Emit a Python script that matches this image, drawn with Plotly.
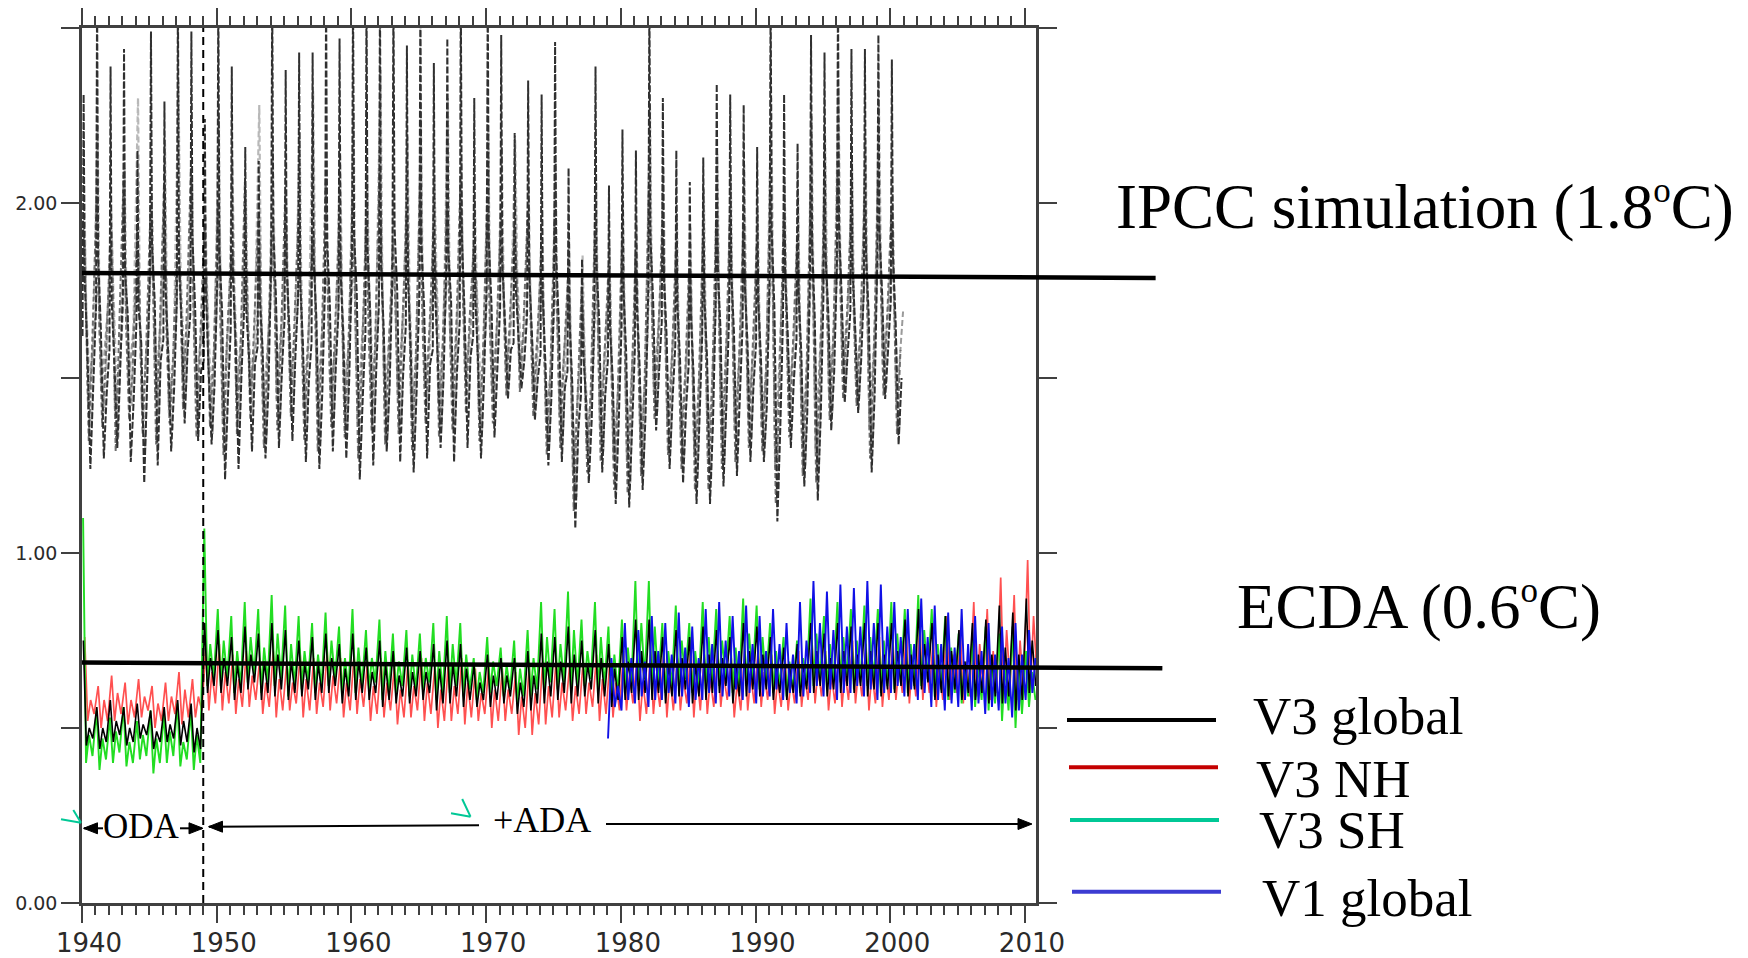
import plotly.graph_objects as go

# ---------------- data ----------------
# IPCC simulation (grey dashed ensemble), one row per year 1940..2000
IPCC_YEARS = list(range(1940, 2001))
# member A (dark)
IPCC_A_PRE = [1.62,1.70,1.58,1.75,1.66,1.80,1.61,1.72,1.68,1.55,1.78,1.64,1.70,1.59,1.82,1.67,1.73,1.60,1.76,1.69,
              1.84,1.63,1.71,1.79,1.65,1.74,1.58,1.81,1.66,1.62,1.77,1.70,1.60,1.68,1.57,1.74,1.52,1.45,1.70,1.55,
              1.63,1.58,1.76,1.66,1.59,1.54,1.62,1.71,1.68,1.65,1.60,1.78,1.67,1.61,1.80,1.73,1.82,1.69,1.75,1.84,1.72]
IPCC_A_PEAK = [2.31,2.60,2.39,2.44,2.15,2.49,2.29,2.60,2.49,2.24,2.60,2.39,2.16,2.12,2.60,2.38,2.43,2.43,2.60,2.47,
               2.60,2.60,2.60,2.60,2.45,2.60,2.40,2.47,2.60,2.30,2.60,2.48,2.20,2.35,2.31,2.46,2.10,1.84,2.39,2.05,
               2.21,2.15,2.60,2.30,2.15,2.06,2.13,2.34,2.31,2.28,2.16,2.60,2.31,2.17,2.48,2.43,2.60,2.44,2.44,2.48,2.41]
IPCC_A_POST = [1.78,1.85,1.72,1.80,1.70,1.88,1.76,1.83,1.90,1.74,1.86,1.79,1.69,1.73,1.92,1.81,1.77,1.84,1.89,1.80,
               1.91,1.87,1.82,1.93,1.78,1.88,1.75,1.86,1.90,1.72,1.89,1.83,1.76,1.80,1.74,1.85,1.66,1.58,1.82,1.64,
               1.75,1.70,1.90,1.79,1.71,1.68,1.73,1.81,1.80,1.77,1.72,1.92,1.79,1.74,1.88,1.85,1.93,1.82,1.86,1.92,1.85]
IPCC_A_MID = [1.58,1.64,1.55,1.68,1.60,1.72,1.57,1.66,1.70,1.52,1.69,1.61,1.56,1.59,1.73,1.63,1.60,1.67,1.71,1.62,
              1.74,1.68,1.64,1.75,1.59,1.70,1.57,1.72,1.69,1.55,1.71,1.66,1.62,1.63,1.54,1.65,1.48,1.45,1.66,1.50,
              1.57,1.53,1.72,1.62,1.55,1.51,1.56,1.64,1.63,1.60,1.56,1.70,1.62,1.57,1.67,1.69,1.73,1.64,1.68,1.74,1.66]
IPCC_A_TROUGH = [1.24,1.27,1.30,1.26,1.20,1.25,1.29,1.37,1.32,1.31,1.21,1.24,1.29,1.27,1.30,1.32,1.26,1.24,1.29,1.27,
                 1.21,1.25,1.29,1.26,1.23,1.27,1.30,1.26,1.30,1.27,1.33,1.44,1.47,1.38,1.25,1.26,1.07,1.20,1.23,1.14,
                 1.13,1.18,1.35,1.24,1.20,1.14,1.14,1.19,1.22,1.26,1.26,1.09,1.30,1.19,1.15,1.35,1.43,1.40,1.23,1.44,1.31]
IPCC_A_LATE = [1.50,1.46,1.53,1.44,1.49,1.55,1.47,1.58,1.52,1.48,1.45,1.51,1.54,1.47,1.52,1.56,1.49,1.46,1.53,1.50,
               1.44,1.52,1.48,1.51,1.46,1.54,1.50,1.52,1.56,1.49,1.53,1.58,1.55,1.50,1.44,1.47,1.35,1.38,1.45,1.37,
               1.36,1.40,1.52,1.44,1.41,1.38,1.37,1.43,1.45,1.47,1.42,1.36,1.49,1.40,1.39,1.52,1.57,1.55,1.45,1.58,1.50]
# member B (light)
IPCC_B_PEAK = [2.05,2.22,1.98,2.10,2.30,2.02,2.18,2.35,2.08,1.96,2.25,2.12,2.04,2.28,2.15,2.00,2.20,2.32,2.06,2.14,
               2.26,2.10,2.38,2.03,2.19,2.24,2.08,2.30,2.12,2.01,2.22,2.16,2.18,2.05,1.98,2.12,1.90,1.85,2.06,1.88,
               2.00,1.95,2.28,2.10,1.97,1.93,2.04,2.14,2.08,2.11,1.98,2.30,2.06,2.02,2.25,2.20,2.33,2.12,2.18,2.28,2.05]
IPCC_B_MID = [1.70,1.62,1.76,1.68,1.58,1.73,1.66,1.80,1.64,1.71,1.60,1.75,1.67,1.63,1.78,1.69,1.61,1.74,1.65,1.72,
              1.59,1.77,1.68,1.62,1.73,1.66,1.79,1.64,1.70,1.75,1.63,1.72,1.78,1.66,1.60,1.62,1.50,1.55,1.64,1.52,
              1.58,1.56,1.70,1.61,1.54,1.57,1.60,1.66,1.63,1.67,1.59,1.73,1.65,1.60,1.70,1.74,1.76,1.68,1.71,1.79,1.70]
IPCC_B_TROUGH = [1.36,1.40,1.33,1.42,1.30,1.38,1.35,1.45,1.39,1.34,1.31,1.37,1.41,1.33,1.38,1.43,1.36,1.32,1.40,1.35,
                 1.30,1.39,1.34,1.37,1.32,1.41,1.36,1.38,1.43,1.35,1.40,1.48,1.50,1.42,1.31,1.33,1.16,1.26,1.29,1.22,
                 1.20,1.25,1.40,1.30,1.27,1.22,1.21,1.27,1.29,1.33,1.31,1.18,1.36,1.25,1.23,1.40,1.46,1.44,1.30,1.47,1.36]
# member C (mid grey)
IPCC_C_HIGH = [1.95,2.02,1.88,2.08,1.92,1.99,2.05,1.90,2.10,1.94,2.00,1.87,2.06,1.96,1.91,2.03,1.98,1.89,2.07,1.93,
               2.01,1.95,2.09,1.90,1.97,2.04,1.92,1.99,2.06,1.88,2.02,1.96,1.93,1.98,1.86,1.95,1.80,1.76,1.97,1.82,
               1.90,1.85,2.05,1.94,1.87,1.84,1.89,1.98,1.95,1.93,1.88,2.04,1.96,1.90,2.02,2.00,2.08,1.97,2.01,2.06,1.99]
IPCC_C_MIDA = [1.72,1.66,1.78,1.64,1.70,1.75,1.62,1.80,1.68,1.73,1.65,1.77,1.69,1.63,1.76,1.71,1.67,1.79,1.66,1.74,
               1.70,1.63,1.77,1.68,1.72,1.65,1.80,1.69,1.73,1.76,1.64,1.74,1.79,1.70,1.62,1.66,1.55,1.58,1.67,1.56,
               1.61,1.59,1.74,1.65,1.58,1.60,1.63,1.70,1.66,1.69,1.62,1.76,1.68,1.63,1.72,1.75,1.78,1.70,1.73,1.80,1.72]
IPCC_C_LOW = [1.32,1.36,1.29,1.38,1.34,1.31,1.37,1.41,1.33,1.36,1.28,1.34,1.38,1.30,1.35,1.39,1.32,1.29,1.36,1.33,
              1.27,1.35,1.31,1.34,1.29,1.37,1.33,1.35,1.40,1.32,1.37,1.45,1.46,1.39,1.28,1.30,1.12,1.23,1.26,1.18,
              1.17,1.22,1.38,1.28,1.24,1.18,1.18,1.24,1.26,1.30,1.29,1.14,1.33,1.22,1.20,1.38,1.44,1.42,1.27,1.45,1.34]
IPCC_C_MIDB = [1.60,1.55,1.64,1.52,1.58,1.62,1.56,1.67,1.59,1.54,1.61,1.57,1.63,1.53,1.60,1.65,1.58,1.55,1.62,1.57,
               1.52,1.60,1.56,1.63,1.54,1.61,1.58,1.60,1.66,1.56,1.62,1.67,1.64,1.58,1.51,1.55,1.42,1.46,1.54,1.44,
               1.43,1.48,1.60,1.52,1.49,1.45,1.44,1.51,1.53,1.56,1.50,1.45,1.58,1.48,1.47,1.60,1.65,1.62,1.53,1.66,1.58]
# member D (light-mid grey)
IPCC_D_HIGH = [1.88,1.80,1.92,1.84,1.86,1.95,1.82,1.90,1.87,1.79,1.93,1.85,1.81,1.89,1.94,1.83,1.88,1.91,1.80,1.86,
               1.90,1.84,1.96,1.82,1.87,1.92,1.85,1.89,1.94,1.81,1.91,1.88,1.86,1.84,1.78,1.83,1.72,1.68,1.85,1.74,
               1.79,1.76,1.93,1.84,1.77,1.75,1.80,1.87,1.85,1.83,1.79,1.92,1.86,1.81,1.90,1.89,1.95,1.86,1.90,1.94,1.88]
IPCC_D_LOW = [1.42,1.46,1.39,1.48,1.41,1.44,1.40,1.50,1.45,1.43,1.38,1.45,1.47,1.40,1.44,1.49,1.42,1.39,1.46,1.43,
              1.37,1.45,1.41,1.44,1.39,1.47,1.43,1.45,1.49,1.41,1.46,1.52,1.53,1.47,1.37,1.39,1.22,1.31,1.35,1.27,
              1.26,1.30,1.46,1.36,1.33,1.28,1.27,1.33,1.35,1.38,1.36,1.24,1.42,1.31,1.29,1.45,1.51,1.49,1.35,1.52,1.41]
IPCC_D_MID = [1.66,1.72,1.62,1.70,1.65,1.74,1.63,1.71,1.68,1.64,1.73,1.67,1.61,1.69,1.75,1.66,1.70,1.72,1.64,1.68,
              1.73,1.65,1.71,1.76,1.63,1.70,1.67,1.74,1.69,1.62,1.72,1.70,1.66,1.68,1.60,1.66,1.55,1.52,1.68,1.56,
              1.62,1.58,1.74,1.66,1.60,1.57,1.61,1.69,1.67,1.65,1.61,1.73,1.67,1.62,1.72,1.71,1.76,1.68,1.71,1.75,1.69]

# ECDA series, one row per year 1940..2010
ECDA_YEARS = list(range(1940, 2011))
V3_SH_PEAK = [1.10,0.55,0.53,0.56,0.52,0.55,0.54,0.57,0.55,1.07,0.84,0.82,0.86,0.84,0.88,0.85,0.82,0.80,0.83,0.79,
              0.84,0.78,0.81,0.77,0.78,0.77,0.80,0.82,0.80,0.70,0.76,0.73,0.75,0.78,0.86,0.84,0.89,0.81,0.86,0.79,
              0.81,0.92,0.92,0.80,0.85,0.80,0.86,0.84,0.82,0.87,0.85,0.80,0.76,0.75,0.87,0.82,0.86,0.84,0.85,0.84,
              0.86,0.84,0.88,0.84,0.82,0.77,0.75,0.79,0.77,0.79,0.72]
V3_SH_LOW1 = [0.40,0.38,0.40,0.39,0.41,0.37,0.40,0.39,0.38,0.62,0.62,0.60,0.63,0.60,0.62,0.59,0.61,0.60,0.62,0.59,
              0.60,0.61,0.58,0.60,0.59,0.61,0.58,0.60,0.59,0.58,0.60,0.59,0.57,0.59,0.60,0.61,0.60,0.62,0.60,0.58,
              0.60,0.62,0.61,0.60,0.62,0.60,0.61,0.62,0.60,0.62,0.61,0.60,0.59,0.60,0.62,0.61,0.63,0.61,0.62,0.60,
              0.61,0.60,0.62,0.59,0.58,0.57,0.56,0.55,0.52,0.50,0.56]
V3_SH_SEC = [0.48,0.47,0.49,0.46,0.48,0.47,0.49,0.46,0.48,0.74,0.75,0.72,0.76,0.73,0.77,0.74,0.72,0.71,0.75,0.70,
             0.73,0.70,0.72,0.69,0.71,0.70,0.72,0.74,0.71,0.66,0.69,0.68,0.67,0.70,0.76,0.74,0.78,0.72,0.76,0.71,
             0.73,0.80,0.79,0.72,0.75,0.72,0.76,0.75,0.73,0.77,0.76,0.72,0.69,0.70,0.77,0.74,0.76,0.75,0.76,0.75,
             0.77,0.74,0.78,0.74,0.73,0.69,0.68,0.70,0.68,0.69,0.66]
V3_SH_LOW2 = [0.42,0.41,0.43,0.40,0.42,0.40,0.42,0.41,0.40,0.64,0.64,0.62,0.65,0.63,0.64,0.62,0.63,0.62,0.64,0.61,
              0.62,0.63,0.60,0.62,0.61,0.63,0.60,0.62,0.61,0.60,0.62,0.61,0.59,0.61,0.63,0.63,0.62,0.64,0.62,0.60,
              0.62,0.64,0.63,0.62,0.64,0.62,0.63,0.64,0.62,0.64,0.63,0.62,0.61,0.62,0.64,0.63,0.65,0.63,0.64,0.62,
              0.63,0.62,0.64,0.61,0.60,0.59,0.58,0.57,0.55,0.54,0.58]
V3_NH_PEAK = [0.76,0.62,0.65,0.63,0.64,0.62,0.63,0.66,0.64,0.74,0.74,0.71,0.72,0.70,0.72,0.69,0.71,0.70,0.72,0.70,
              0.71,0.69,0.70,0.68,0.69,0.70,0.68,0.69,0.70,0.67,0.68,0.67,0.66,0.68,0.69,0.70,0.68,0.69,0.71,0.70,
              0.72,0.70,0.71,0.72,0.70,0.73,0.71,0.72,0.70,0.72,0.73,0.71,0.70,0.72,0.74,0.72,0.73,0.75,0.74,0.76,
              0.75,0.78,0.80,0.76,0.82,0.78,0.86,0.84,0.93,0.88,0.98]
V3_NH_LOW1 = [0.52,0.50,0.52,0.51,0.53,0.50,0.52,0.51,0.53,0.55,0.55,0.54,0.56,0.54,0.53,0.55,0.53,0.54,0.55,0.53,
              0.54,0.52,0.53,0.51,0.53,0.52,0.50,0.52,0.51,0.52,0.50,0.52,0.48,0.48,0.51,0.53,0.52,0.54,0.52,0.53,
              0.55,0.52,0.54,0.53,0.55,0.53,0.54,0.56,0.53,0.55,0.56,0.54,0.55,0.56,0.57,0.55,0.56,0.57,0.55,0.56,
              0.58,0.57,0.58,0.56,0.58,0.57,0.59,0.58,0.60,0.58,0.62]
V3_NH_SEC = [0.58,0.58,0.60,0.58,0.59,0.57,0.59,0.61,0.59,0.66,0.66,0.64,0.65,0.63,0.64,0.63,0.64,0.63,0.65,0.63,
             0.64,0.62,0.63,0.61,0.62,0.63,0.61,0.62,0.63,0.60,0.61,0.61,0.59,0.60,0.62,0.63,0.62,0.63,0.64,0.63,
             0.65,0.63,0.64,0.65,0.64,0.66,0.64,0.65,0.63,0.65,0.66,0.64,0.64,0.65,0.67,0.65,0.66,0.67,0.66,0.67,
             0.68,0.69,0.70,0.68,0.71,0.69,0.74,0.72,0.78,0.75,0.82]
V3_NH_LOW2 = [0.54,0.52,0.54,0.53,0.55,0.52,0.54,0.53,0.55,0.57,0.57,0.56,0.58,0.56,0.55,0.57,0.55,0.56,0.57,0.55,
              0.56,0.54,0.55,0.53,0.55,0.54,0.52,0.54,0.53,0.54,0.52,0.54,0.50,0.51,0.53,0.55,0.54,0.56,0.54,0.55,
              0.57,0.54,0.56,0.55,0.57,0.55,0.56,0.58,0.55,0.57,0.58,0.56,0.57,0.58,0.59,0.57,0.58,0.59,0.57,0.58,
              0.60,0.59,0.60,0.58,0.60,0.59,0.61,0.60,0.62,0.60,0.64]
V3_GL_PEAK = [0.75,0.56,0.58,0.56,0.57,0.55,0.56,0.58,0.57,0.80,0.78,0.76,0.79,0.77,0.80,0.78,0.75,0.76,0.77,0.74,
              0.77,0.73,0.75,0.72,0.73,0.72,0.74,0.75,0.74,0.68,0.71,0.70,0.70,0.72,0.77,0.76,0.79,0.75,0.78,0.74,
              0.76,0.81,0.81,0.76,0.78,0.76,0.79,0.78,0.76,0.80,0.79,0.76,0.73,0.74,0.80,0.77,0.80,0.79,0.80,0.80,
              0.80,0.81,0.84,0.80,0.82,0.78,0.80,0.81,0.85,0.83,0.87]
V3_GL_LOW1 = [0.45,0.44,0.46,0.45,0.47,0.44,0.46,0.45,0.43,0.60,0.60,0.58,0.61,0.58,0.59,0.58,0.59,0.58,0.60,0.57,
              0.58,0.58,0.56,0.57,0.57,0.58,0.55,0.57,0.56,0.56,0.56,0.57,0.54,0.55,0.57,0.58,0.57,0.59,0.57,0.56,
              0.58,0.58,0.58,0.57,0.59,0.57,0.58,0.60,0.57,0.59,0.59,0.58,0.58,0.59,0.60,0.59,0.60,0.60,0.59,0.59,
              0.60,0.59,0.61,0.58,0.59,0.58,0.58,0.57,0.57,0.55,0.60]
V3_GL_SEC = [0.50,0.50,0.52,0.50,0.51,0.49,0.51,0.52,0.50,0.70,0.70,0.68,0.71,0.69,0.71,0.69,0.68,0.68,0.70,0.67,
             0.69,0.66,0.68,0.65,0.66,0.66,0.67,0.68,0.67,0.63,0.65,0.65,0.63,0.65,0.69,0.69,0.71,0.68,0.70,0.67,
             0.69,0.72,0.72,0.68,0.70,0.68,0.71,0.70,0.68,0.72,0.71,0.68,0.67,0.68,0.72,0.70,0.72,0.71,0.72,0.71,
             0.72,0.71,0.74,0.71,0.72,0.69,0.71,0.71,0.73,0.71,0.75]
V3_GL_LOW2 = [0.47,0.46,0.48,0.46,0.48,0.46,0.47,0.46,0.44,0.62,0.62,0.60,0.63,0.60,0.61,0.60,0.61,0.60,0.62,0.59,
              0.60,0.60,0.58,0.59,0.59,0.60,0.57,0.59,0.58,0.58,0.58,0.59,0.56,0.57,0.59,0.60,0.59,0.61,0.59,0.58,
              0.60,0.60,0.60,0.59,0.61,0.59,0.60,0.62,0.59,0.61,0.61,0.60,0.60,0.61,0.62,0.61,0.62,0.62,0.61,0.61,
              0.62,0.61,0.63,0.60,0.61,0.60,0.60,0.59,0.59,0.58,0.62]
# V1 global, 1979..2010
V1_YEARS = list(range(1979, 2011))
V1_GL_LOW1 = [0.47,0.55,0.57,0.56,0.58,0.57,0.56,0.58,0.57,0.59,0.58,0.57,0.59,0.58,0.57,0.60,0.59,0.58,0.60,0.59,
              0.58,0.60,0.59,0.58,0.56,0.55,0.56,0.55,0.54,0.55,0.53,0.58]
V1_GL_PEAK = [0.70,0.80,0.78,0.82,0.80,0.83,0.79,0.84,0.86,0.82,0.85,0.82,0.84,0.80,0.86,0.92,0.89,0.91,0.90,0.92,
              0.91,0.86,0.84,0.87,0.85,0.83,0.84,0.82,0.80,0.79,0.80,0.78]
V1_GL_LOW2 = [0.56,0.58,0.59,0.58,0.60,0.59,0.58,0.60,0.59,0.61,0.60,0.59,0.61,0.60,0.59,0.62,0.61,0.60,0.62,0.61,
              0.60,0.62,0.61,0.60,0.58,0.57,0.58,0.57,0.56,0.57,0.55,0.60]
V1_GL_SEC = [0.62,0.70,0.69,0.72,0.71,0.73,0.70,0.74,0.75,0.72,0.74,0.72,0.74,0.71,0.75,0.80,0.78,0.79,0.79,0.80,
             0.79,0.76,0.74,0.76,0.74,0.73,0.74,0.72,0.71,0.70,0.71,0.70]

# horizontal reference lines (value at 1940, value at right end, right-end year)
IPCC_REF = (1.800, 1.786, 2019.7)
ECDA_REF = (0.687, 0.671, 2020.2)
ADA_START = 1949.0

X_RANGE = [1940.0, 2010.82]
Y_RANGE = [0.0, 2.5]
X_TICKS = list(range(1940, 2011, 10))
Y_TICKVALS = [0.0, 1.0, 2.0]
Y_TICKTEXT = ["0.00", "1.00", "2.00"]


def build(years, parts):
    xs, ys = [], []
    for i, yr in enumerate(years):
        for phase, vals in parts:
            xs.append(yr + phase)
            ys.append(vals[i])
    return xs, ys


def xp(v):
    return (v - X_RANGE[0]) / (X_RANGE[1] - X_RANGE[0])


def yp(v):
    return (v - Y_RANGE[0]) / (Y_RANGE[1] - Y_RANGE[0])


fig = go.Figure()


def add_line(parts_years, parts, color, width, dash=None):
    x, y = build(parts_years, parts)
    ln = dict(color=color, width=width)
    if dash:
        ln["dash"] = dash
    fig.add_trace(go.Scatter(x=x, y=y, mode="lines", line=ln, hoverinfo="skip"))


add_line(IPCC_YEARS, [(0.16, IPCC_B_PEAK), (0.32, IPCC_B_MID), (0.70, IPCC_B_TROUGH)],
         "#b8b8b8", 2.2, "6px,3px")
add_line(IPCC_YEARS, [(0.22, IPCC_D_HIGH), (0.45, IPCC_D_LOW), (0.95, IPCC_D_MID)],
         "#9a9a9a", 2.0, "6px,3px")
add_line(IPCC_YEARS, [(0.09, IPCC_C_HIGH), (0.28, IPCC_C_MIDA), (0.50, IPCC_C_LOW), (0.76, IPCC_C_MIDB)],
         "#6e6e6e", 2.0, "5px,3px")
add_line(IPCC_YEARS, [(0.04, IPCC_A_PRE), (0.12, IPCC_A_PEAK), (0.20, IPCC_A_POST), (0.40, IPCC_A_MID),
                      (0.62, IPCC_A_TROUGH), (0.84, IPCC_A_LATE)],
         "#303030", 2.0, "7px,2px")

add_line(ECDA_YEARS, [(0.20, V3_NH_PEAK), (0.42, V3_NH_LOW1), (0.64, V3_NH_SEC), (0.90, V3_NH_LOW2)],
         "#ff5050", 1.7)
add_line(ECDA_YEARS, [(0.08, V3_SH_PEAK), (0.30, V3_SH_LOW1), (0.52, V3_SH_SEC), (0.78, V3_SH_LOW2)],
         "#22dd22", 1.9)
add_line(ECDA_YEARS, [(0.10, V3_GL_PEAK), (0.32, V3_GL_LOW1), (0.54, V3_GL_SEC), (0.80, V3_GL_LOW2)],
         "#000000", 1.6)
add_line(V1_YEARS, [(0.05, V1_GL_LOW1), (0.30, V1_GL_PEAK), (0.55, V1_GL_LOW2), (0.78, V1_GL_SEC)],
         "#1010e6", 1.9)

# ADA start dashed line
fig.add_trace(go.Scatter(x=[ADA_START, ADA_START], y=Y_RANGE, mode="lines", hoverinfo="skip",
                         line=dict(color="#000000", width=2, dash="8px,5px")))

shapes = []
for v0, v1, xend in (IPCC_REF, ECDA_REF):
    shapes.append(dict(type="line", xref="paper", yref="paper", x0=xp(X_RANGE[0]), y0=yp(v0),
                       x1=xp(xend), y1=yp(v1), line=dict(color="#000000", width=4.5)))


# pixel helpers for decorations (plot area 82..1036 x 28..903)
def px(x):
    return (x - 82.0) / 954.0


def py(y):
    return (903.0 - y) / 875.0


def seg(x0, y0, x1, y1, color="#000000", width=2):
    shapes.append(dict(type="line", xref="paper", yref="paper", x0=px(x0), y0=py(y0),
                       x1=px(x1), y1=py(y1), line=dict(color=color, width=width)))


def head(xa, ya, direction, length=14, half=5.5):
    xb = xa - direction * length
    path = "M {} {} L {} {} L {} {} Z".format(px(xa), py(ya), px(xb), py(ya - half), px(xb), py(ya + half))
    shapes.append(dict(type="path", xref="paper", yref="paper", path=path,
                       fillcolor="#000000", line=dict(color="#000000", width=1)))


# ODA / ADA arrows
seg(84, 828.3, 103, 828.3)
head(83.5, 828.3, -1)
seg(180, 828.3, 202, 828.3)
head(203, 828.3, +1)
seg(209, 826.7, 479, 825.2)
head(208.5, 826.7, -1)
seg(606, 824, 1031, 824)
head(1032, 824, +1)

# small teal marks
seg(61, 819.3, 81, 822.7, color="#00c896", width=2)
seg(73.3, 810, 81, 822.7, color="#00c896", width=2)
seg(451, 813.3, 470.5, 816.7, color="#00c896", width=2)
seg(462.2, 799, 470.5, 816.7, color="#00c896", width=2)

# legend lines
seg(1067, 720, 1216, 720, color="#000000", width=4)
seg(1069, 767.3, 1218, 767.3, color="#c40000", width=4)
seg(1070, 820, 1219, 820, color="#00c896", width=4)
seg(1072, 891.7, 1221, 891.7, color="#3c3cd2", width=4)

SERIF = "Liberation Serif, Times New Roman, serif"
DEG = '<sup><span style="font-size:35px">o</span></sup>'
annotations = [
    dict(text="IPCC simulation (1.8" + DEG + "C)", x=px(1113.5), y=py(243.6), xanchor="left", yanchor="bottom",
         font=dict(family=SERIF, size=63, color="#000000")),
    dict(text="ECDA (0.6" + DEG + "C)", x=px(1235), y=py(643.6), xanchor="left", yanchor="bottom",
         font=dict(family=SERIF, size=63, color="#000000")),
    dict(text="V3 global", x=px(1251), y=py(715.5), xanchor="left", yanchor="middle",
         font=dict(family=SERIF, size=53, color="#000000")),
    dict(text="V3 NH", x=px(1254), y=py(779), xanchor="left", yanchor="middle",
         font=dict(family=SERIF, size=53, color="#000000")),
    dict(text="V3 SH", x=px(1256.6), y=py(830), xanchor="left", yanchor="middle",
         font=dict(family=SERIF, size=53, color="#000000")),
    dict(text="V1 global", x=px(1260), y=py(898), xanchor="left", yanchor="middle",
         font=dict(family=SERIF, size=53, color="#000000")),
    dict(text="ODA", x=px(141), y=py(826.5), xanchor="center", yanchor="middle",
         font=dict(family=SERIF, size=35, color="#000000")),
    dict(text="+ADA", x=px(541.5), y=py(820), xanchor="center", yanchor="middle",
         font=dict(family=SERIF, size=36, color="#000000")),
]
for a in annotations:
    a.update(xref="paper", yref="paper", showarrow=False)

AX = "#404040"
fig.update_layout(
    width=1748, height=958, autosize=False,
    margin=dict(l=82, r=712, t=28, b=55, pad=0, autoexpand=False),
    paper_bgcolor="#ffffff", plot_bgcolor="#ffffff",
    showlegend=False,
    shapes=shapes, annotations=annotations,
    xaxis=dict(range=X_RANGE, tickvals=X_TICKS, ticktext=[str(t) for t in X_TICKS], automargin=False,
               showgrid=False, zeroline=False, showline=True, linewidth=3, linecolor=AX,
               mirror="ticks", ticks="outside", ticklen=17, tickwidth=2, tickcolor=AX,
               tickfont=dict(family="DejaVu Sans", size=26, color="#2a2a2a"),
               ticklabelshift=7, ticklabelstandoff=-2,
               minor=dict(dtick=1, tick0=1940, ticks="outside", ticklen=9, tickwidth=2, tickcolor=AX,
                          showgrid=False)),
    yaxis=dict(range=Y_RANGE, tickvals=Y_TICKVALS, ticktext=Y_TICKTEXT, automargin=False,
               showgrid=False, zeroline=False, showline=True, linewidth=2.5, linecolor=AX,
               mirror="ticks", ticks="outside", ticklen=18, tickwidth=2, tickcolor=AX,
               tickfont=dict(family="DejaVu Sans", size=19, color="#2a2a2a"),
               minor=dict(dtick=0.5, tick0=0, ticks="outside", ticklen=18, tickwidth=2, tickcolor=AX,
                          showgrid=False)),
)

fig.write_html("out.html", config={"displayModeBar": False},
               post_script="document.body.style.margin='0';document.body.style.overflow='hidden';")
